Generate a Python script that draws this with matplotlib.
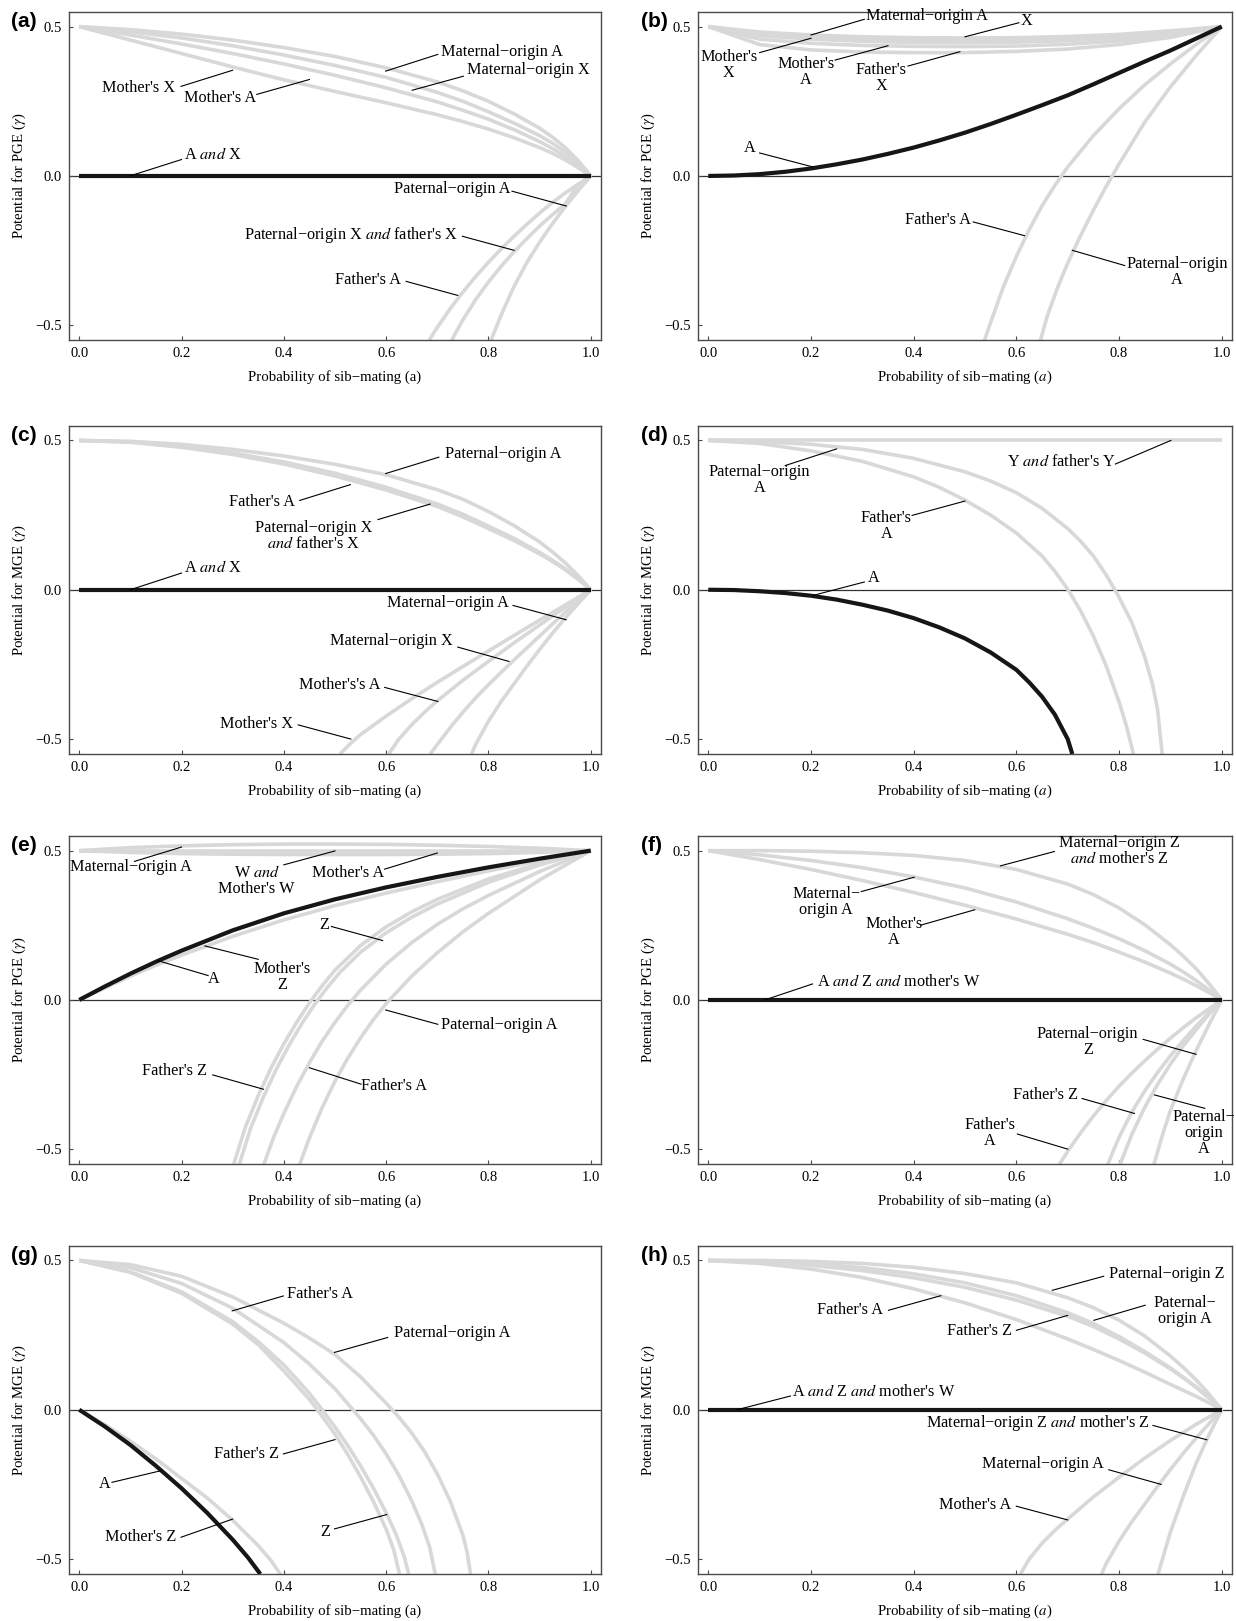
import matplotlib
matplotlib.use("Agg")
import matplotlib.pyplot as plt

plt.rcParams["font.family"] = ["Liberation Serif", "DejaVu Serif"]
plt.rcParams["mathtext.fontset"] = "stix"

# ---------------- values ----------------
grid11 = [0.0, 0.1, 0.2, 0.3, 0.4, 0.5, 0.6, 0.7, 0.8, 0.9, 1.0]
grid16 = [0.0, 0.1, 0.2, 0.3, 0.4, 0.5, 0.6, 0.7, 0.75, 0.8, 0.85, 0.9, 0.925, 0.95, 0.975, 1.0]
grid21 = [0.0, 0.05, 0.1, 0.15, 0.2, 0.25, 0.3, 0.35, 0.4, 0.45, 0.5,
          0.55, 0.6, 0.65, 0.7, 0.75, 0.8, 0.85, 0.9, 0.95, 1.0]
ends = [0.0, 1.0]
zeros = [0.0, 0.0]
halves = [0.5, 0.5]

# (a) PGE
a_mat_origin_A = [0.5, 0.49, 0.475, 0.455, 0.43, 0.40, 0.362, 0.315, 0.285, 0.25, 0.208, 0.16, 0.13, 0.095, 0.052, 0.0]
a_mat_origin_X = [0.5, 0.483, 0.462, 0.436, 0.405, 0.37, 0.33, 0.28, 0.25, 0.215, 0.177, 0.135, 0.11, 0.08, 0.043, 0.0]
a_mother_A = [0.5, 0.472, 0.442, 0.41, 0.375, 0.337, 0.295, 0.248, 0.22, 0.19, 0.155, 0.115, 0.092, 0.066, 0.035, 0.0]
a_mother_X = [0.5, 0.455, 0.41, 0.365, 0.322, 0.283, 0.245, 0.205, 0.182, 0.157, 0.128, 0.095, 0.076, 0.054, 0.028, 0.0]
a_father_A_x = [0.684, 0.7, 0.725, 0.75, 0.775, 0.8, 0.825, 0.85, 0.875, 0.9, 0.925, 0.95, 0.975, 1.0]
a_father_A_y = [-0.55, -0.507, -0.445, -0.389, -0.337, -0.289, -0.244, -0.202, -0.162, -0.124, -0.089, -0.057, -0.028, 0.0]
a_pat_X_x = [0.728, 0.75, 0.775, 0.8, 0.825, 0.85, 0.875, 0.9, 0.925, 0.95, 0.975, 1.0]
a_pat_X_y = [-0.55, -0.482, -0.414, -0.355, -0.302, -0.254, -0.21, -0.168, -0.13, -0.094, -0.06, 0.0]
a_pat_X_y[-2] = -0.03
a_pat_A_x = [0.805, 0.825, 0.85, 0.875, 0.9, 0.925, 0.95, 0.975, 1.0]
a_pat_A_y = [-0.55, -0.465, -0.37, -0.29, -0.222, -0.16, -0.103, -0.05, 0.0]

# (b) PGE
b_A = [0.0, 0.0015, 0.006, 0.014, 0.025, 0.039, 0.055, 0.074, 0.095, 0.119, 0.145,
       0.174, 0.205, 0.237, 0.27, 0.307, 0.345, 0.383, 0.42, 0.46, 0.5]
b_mat_origin_A = [0.5, 0.482, 0.472, 0.466, 0.463, 0.462, 0.463, 0.467, 0.474, 0.486, 0.5]
b_X = [0.5, 0.476, 0.466, 0.46, 0.457, 0.456, 0.457, 0.461, 0.469, 0.482, 0.5]
b_mother_X = [0.5, 0.47, 0.458, 0.451, 0.447, 0.446, 0.448, 0.453, 0.462, 0.478, 0.5]
b_mother_A = [0.5, 0.458, 0.444, 0.437, 0.434, 0.433, 0.435, 0.441, 0.452, 0.471, 0.5]
b_father_X = [0.5, 0.44, 0.422, 0.415, 0.413, 0.413, 0.417, 0.425, 0.44, 0.464, 0.5]
b_father_A_x = [0.538, 0.55, 0.575, 0.6, 0.625, 0.65, 0.675, 0.7, 0.75, 0.8, 0.85, 0.9, 0.95, 1.0]
b_father_A_y = [-0.55, -0.49, -0.37, -0.27, -0.18, -0.1, -0.032, 0.03, 0.135, 0.225, 0.305, 0.375, 0.44, 0.5]
b_pat_A_x = [0.647, 0.66, 0.68, 0.7, 0.725, 0.75, 0.775, 0.8, 0.85, 0.9, 0.95, 1.0]
b_pat_A_y = [-0.55, -0.47, -0.375, -0.292, -0.2, -0.115, -0.035, 0.04, 0.18, 0.298, 0.403, 0.5]

# (c) MGE
c_pat_origin_A = [0.5, 0.497, 0.487, 0.47, 0.448, 0.42, 0.385, 0.335, 0.303, 0.262, 0.215, 0.16, 0.127, 0.09, 0.048, 0.0]
c_father_A = [0.5, 0.495, 0.48, 0.458, 0.428, 0.39, 0.343, 0.287, 0.253, 0.213, 0.172, 0.125, 0.099, 0.07, 0.037, 0.0]
c_pat_origin_X = [0.5, 0.494, 0.477, 0.453, 0.421, 0.381, 0.334, 0.279, 0.244, 0.205, 0.165, 0.12, 0.095, 0.067, 0.035, 0.0]
c_mat_A_x = [0.767, 0.775, 0.8, 0.825, 0.85, 0.875, 0.9, 0.925, 0.95, 0.975, 1.0]
c_mat_A_y = [-0.55, -0.518, -0.44, -0.374, -0.315, -0.256, -0.2, -0.146, -0.095, -0.047, 0.0]
c_mat_X_x = [0.686, 0.7, 0.725, 0.75, 0.775, 0.8, 0.825, 0.85, 0.875, 0.9, 0.925, 0.95, 0.975, 1.0]
c_mat_X_y = [-0.55, -0.518, -0.462, -0.41, -0.362, -0.318, -0.276, -0.235, -0.195, -0.155, -0.115, -0.076, -0.038, 0.0]
c_mothers_A_x = [0.605, 0.625, 0.65, 0.675, 0.7, 0.75, 0.8, 0.85, 0.9, 0.95, 1.0]
c_mothers_A_y = [-0.55, -0.5, -0.452, -0.41, -0.372, -0.303, -0.24, -0.178, -0.118, -0.059, 0.0]
c_mother_X_x = [0.51, 0.53, 0.55, 0.6, 0.65, 0.7, 0.75, 0.8, 0.85, 0.9, 0.95, 1.0]
c_mother_X_y = [-0.55, -0.515, -0.485, -0.423, -0.365, -0.31, -0.257, -0.205, -0.153, -0.102, -0.051, 0.0]

# (d) MGE
d_pat_A_x = [0.0, 0.1, 0.2, 0.3, 0.4, 0.5, 0.55, 0.6, 0.65, 0.7, 0.725, 0.75, 0.775, 0.8,
             0.825, 0.85, 0.865, 0.875, 0.884]
d_pat_A_y = [0.5, 0.497, 0.487, 0.47, 0.44, 0.395, 0.364, 0.325, 0.273, 0.205, 0.163, 0.113, 0.05,
             -0.025, -0.11, -0.225, -0.315, -0.40, -0.55]
d_father_A_x = [0.0, 0.1, 0.2, 0.3, 0.4, 0.45, 0.5, 0.55, 0.6, 0.65, 0.675, 0.7, 0.725, 0.75,
                0.775, 0.8, 0.815, 0.828]
d_father_A_y = [0.5, 0.49, 0.465, 0.43, 0.378, 0.343, 0.3, 0.25, 0.19, 0.113, 0.062, 0.002, -0.07,
                -0.155, -0.255, -0.375, -0.46, -0.55]
d_A_x = [0.0, 0.05, 0.1, 0.15, 0.2, 0.25, 0.3, 0.35, 0.4, 0.45, 0.5, 0.55, 0.6, 0.625, 0.65,
         0.675, 0.7, 0.709]
d_A_y = [0.0, -0.001, -0.005, -0.011, -0.02, -0.033, -0.05, -0.07, -0.095, -0.126, -0.163, -0.21,
         -0.268, -0.31, -0.358, -0.418, -0.5, -0.55]

# (e) PGE, ZW
e_x = [0.0, 0.05, 0.1, 0.15, 0.2, 0.3, 0.4, 0.5, 0.6, 0.7, 0.8, 0.9, 1.0]
e_A = [0.0, 0.045, 0.088, 0.128, 0.165, 0.233, 0.29, 0.337, 0.377, 0.412, 0.444, 0.473, 0.5]
e_mother_Z = [0.0, 0.04, 0.08, 0.116, 0.15, 0.213, 0.268, 0.316, 0.358, 0.396, 0.432, 0.466, 0.5]
e_mat_origin_A = [0.5, 0.51, 0.516, 0.52, 0.522, 0.522, 0.521, 0.518, 0.514, 0.508, 0.5]
e_mother_A = [0.5, 0.494, 0.49, 0.488, 0.487, 0.487, 0.487, 0.488, 0.49, 0.494, 0.5]
e_father_Z_x = [0.302, 0.325, 0.35, 0.375, 0.4, 0.425, 0.45, 0.475, 0.5, 0.55, 0.6, 0.65, 0.7, 0.8, 0.9, 1.0]
e_father_Z_y = [-0.55, -0.425, -0.32, -0.228, -0.147, -0.075, -0.01, 0.048, 0.1, 0.182, 0.245, 0.295,
                0.337, 0.405, 0.457, 0.5]
e_Z_x = [0.313, 0.335, 0.36, 0.385, 0.41, 0.435, 0.46, 0.485, 0.51, 0.55, 0.6, 0.65, 0.7, 0.8, 0.9, 1.0]
e_Z_y = [-0.55, -0.43, -0.325, -0.233, -0.152, -0.08, -0.015, 0.042, 0.093, 0.16, 0.225, 0.277, 0.321,
         0.394, 0.452, 0.5]
e_father_A_x = [0.361, 0.38, 0.4, 0.425, 0.45, 0.475, 0.5, 0.525, 0.55, 0.6, 0.65, 0.7, 0.75, 0.8, 0.9, 1.0]
e_father_A_y = [-0.55, -0.46, -0.38, -0.29, -0.21, -0.138, -0.075, -0.018, 0.033, 0.12, 0.192, 0.253,
                0.305, 0.35, 0.43, 0.5]
e_pat_A_x = [0.431, 0.45, 0.475, 0.5, 0.525, 0.55, 0.575, 0.6, 0.65, 0.7, 0.75, 0.8, 0.9, 1.0]
e_pat_A_y = [-0.55, -0.462, -0.36, -0.272, -0.195, -0.127, -0.066, -0.012, 0.08, 0.158, 0.228, 0.29,
             0.402, 0.5]

# (f) PGE, ZW
f_mat_origin_Z = [0.5, 0.5, 0.498, 0.493, 0.484, 0.467, 0.437, 0.388, 0.353, 0.308, 0.252, 0.185, 0.147, 0.105, 0.055, 0.0]
f_mat_origin_A = [0.5, 0.486, 0.467, 0.443, 0.412, 0.375, 0.328, 0.272, 0.24, 0.205, 0.165, 0.12, 0.094, 0.065, 0.034, 0.0]
f_mother_A = [0.5, 0.47, 0.437, 0.4, 0.36, 0.317, 0.271, 0.22, 0.192, 0.16, 0.127, 0.09, 0.07, 0.048, 0.025, 0.0]
f_father_A_x = [0.684, 0.7, 0.725, 0.75, 0.775, 0.8, 0.825, 0.85, 0.875, 0.9, 0.925, 0.95, 0.975, 1.0]
f_father_A_y = [-0.55, -0.507, -0.445, -0.389, -0.337, -0.289, -0.245, -0.204, -0.165, -0.128, -0.093,
                -0.06, -0.03, 0.0]
f_father_Z_x = [0.778, 0.8, 0.825, 0.85, 0.875, 0.9, 0.925, 0.95, 0.975, 1.0]
f_father_Z_y = [-0.55, -0.46, -0.375, -0.305, -0.243, -0.187, -0.136, -0.088, -0.043, 0.0]
f_pat_A_x = [0.802, 0.825, 0.85, 0.875, 0.9, 0.925, 0.95, 0.975, 1.0]
f_pat_A_y = [-0.55, -0.45, -0.36, -0.283, -0.215, -0.154, -0.1, -0.048, 0.0]
f_pat_Z_x = [0.868, 0.885, 0.9, 0.925, 0.95, 0.975, 1.0]
f_pat_Z_y = [-0.55, -0.45, -0.37, -0.265, -0.17, -0.083, 0.0]

# (g) MGE, ZW
g_pat_A_x = [0.0, 0.1, 0.2, 0.3, 0.4, 0.45, 0.5, 0.55, 0.6, 0.625, 0.65, 0.675, 0.7, 0.725, 0.75, 0.758, 0.765]
g_pat_A_y = [0.5, 0.486, 0.447, 0.378, 0.29, 0.24, 0.185, 0.11, 0.022, -0.025, -0.078, -0.14, -0.215,
             -0.305, -0.42, -0.475, -0.55]
g_father_A_x = [0.0, 0.1, 0.2, 0.3, 0.4, 0.45, 0.5, 0.55, 0.575, 0.6, 0.625, 0.65, 0.67, 0.685, 0.696]
g_father_A_y = [0.5, 0.476, 0.423, 0.34, 0.225, 0.153, 0.07, -0.03, -0.085, -0.148, -0.22, -0.305,
                -0.385, -0.46, -0.55]
g_Z_x = [0.0, 0.1, 0.2, 0.3, 0.35, 0.4, 0.45, 0.475, 0.5, 0.525, 0.55, 0.575, 0.6, 0.62, 0.635, 0.644]
g_Z_y = [0.5, 0.462, 0.395, 0.295, 0.228, 0.15, 0.055, 0.0, -0.058, -0.12, -0.188, -0.262, -0.345,
         -0.42, -0.49, -0.55]
g_father_Z_x = [0.0, 0.1, 0.2, 0.3, 0.35, 0.4, 0.45, 0.475, 0.5, 0.525, 0.55, 0.575, 0.6, 0.615, 0.626]
g_father_Z_y = [0.5, 0.46, 0.39, 0.287, 0.218, 0.13, 0.035, -0.022, -0.082, -0.15, -0.225, -0.307,
                -0.4, -0.47, -0.55]
g_A_x = [0.0, 0.05, 0.1, 0.15, 0.2, 0.25, 0.3, 0.33, 0.354]
g_A_y = [0.0, -0.056, -0.118, -0.188, -0.263, -0.345, -0.435, -0.495, -0.55]
g_mother_Z_x = [0.0, 0.05, 0.1, 0.15, 0.2, 0.25, 0.3, 0.35, 0.375, 0.393]
g_mother_Z_y = [0.0, -0.05, -0.105, -0.165, -0.23, -0.295, -0.37, -0.455, -0.505, -0.55]

# (h) MGE, ZW
h_pat_origin_Z = [0.5, 0.5, 0.497, 0.49, 0.477, 0.456, 0.425, 0.375, 0.342, 0.3, 0.247, 0.18, 0.142, 0.1, 0.053, 0.0]
h_pat_origin_A = [0.5, 0.497, 0.49, 0.476, 0.455, 0.425, 0.382, 0.325, 0.289, 0.245, 0.195, 0.14, 0.109, 0.077, 0.04, 0.0]
h_father_Z = [0.5, 0.495, 0.484, 0.466, 0.442, 0.41, 0.367, 0.313, 0.279, 0.237, 0.19, 0.137, 0.107, 0.075, 0.039, 0.0]
h_father_A = [0.5, 0.49, 0.471, 0.443, 0.405, 0.358, 0.302, 0.237, 0.202, 0.165, 0.126, 0.085, 0.065, 0.045, 0.023, 0.0]
h_mat_Z_x = [0.876, 0.9, 0.925, 0.95, 0.975, 1.0]
h_mat_Z_y = [-0.55, -0.41, -0.29, -0.18, -0.085, 0.0]
h_mat_A_x = [0.766, 0.775, 0.8, 0.825, 0.85, 0.875, 0.9, 0.925, 0.95, 0.975, 1.0]
h_mat_A_y = [-0.55, -0.515, -0.44, -0.375, -0.316, -0.257, -0.2, -0.146, -0.095, -0.047, 0.0]
h_mother_A_x = [0.608, 0.625, 0.65, 0.675, 0.7, 0.75, 0.8, 0.85, 0.9, 0.95, 1.0]
h_mother_A_y = [-0.55, -0.5, -0.447, -0.404, -0.366, -0.292, -0.226, -0.162, -0.103, -0.049, 0.0]

x_ticks = [0.0, 0.2, 0.4, 0.6, 0.8, 1.0]
x_ticklabels = ["0.0", "0.2", "0.4", "0.6", "0.8", "1.0"]
y_ticks = [-0.5, 0.0, 0.5]
y_ticklabels = ["\u22120.5", "0.0", "0.5"]

# ---------------- panel specs ----------------
AND = r"$\mathit{and}$"
M = "\u2212"
PGE = r"Potential for PGE ($\gamma$)"
MGE = r"Potential for MGE ($\gamma$)"
XL_UP = "Probability of sib" + M + "mating (a)"
XL_IT = "Probability of sib" + M + r"mating ($a$)"

panels = [
    dict(tag="(a)", ylabel=PGE, xlabel=XL_UP,
         gray=[(grid16, a_mat_origin_A), (grid16, a_mat_origin_X), (grid16, a_mother_A),
               (grid16, a_mother_X), (a_father_A_x, a_father_A_y), (a_pat_X_x, a_pat_X_y),
               (a_pat_A_x, a_pat_A_y)],
         black=[(ends, zeros)],
         labels=[("Maternal" + M + "origin A", 0.707, 0.416, "left", (0.701, 0.407, 0.599, 0.351)),
                 ("Maternal" + M + "origin X", 0.759, 0.354, "left", (0.751, 0.334, 0.651, 0.287)),
                 ("Mother's X", 0.188, 0.295, "right", (0.199, 0.30, 0.30, 0.354)),
                 ("Mother's A", 0.205, 0.261, "left", (0.347, 0.273, 0.45, 0.323)),
                 ("A " + AND + " X", 0.205, 0.0715, "left", (0.2, 0.055, 0.099, 0.0)),
                 ("Paternal" + M + "origin A", 0.844, -0.045, "right", (0.846, -0.051, 0.952, -0.1006)),
                 ("Paternal" + M + "origin X " + AND + " father's X", 0.74, -0.197, "right",
                  (0.749, -0.202, 0.85, -0.249)),
                 ("Father's A", 0.630, -0.347, "right", (0.639, -0.353, 0.74, -0.40))]),
    dict(tag="(b)", ylabel=PGE, xlabel=XL_IT,
         gray=[(grid11, b_mat_origin_A), (grid11, b_X), (grid11, b_mother_X), (grid11, b_mother_A),
               (grid11, b_father_X), (b_father_A_x, b_father_A_y), (b_pat_A_x, b_pat_A_y)],
         black=[(grid21, b_A)],
         labels=[("Maternal" + M + "origin A", 0.307, 0.534, "left", (0.304, 0.5246, 0.2, 0.472)),
                 ("X", 0.608, 0.519, "left", (0.605, 0.513, 0.5, 0.466)),
                 ("Mother's\nX", 0.04, 0.371, "center", (0.1, 0.413, 0.2, 0.461)),
                 ("Mother's\nA", 0.19, 0.349, "center", (0.247, 0.388, 0.35, 0.436)),
                 ("Father's\nX", 0.337, 0.329, "center", (0.389, 0.368, 0.49, 0.416)),
                 ("A", 0.081, 0.092, "center", (0.1, 0.077, 0.204, 0.03)),
                 ("Father's A", 0.511, -0.1465, "right", (0.516, -0.154, 0.616, -0.2)),
                 ("Paternal" + M + "origin\nA", 0.913, -0.322, "center", (0.811, -0.3, 0.709, -0.249))]),
    dict(tag="(c)", ylabel=MGE, xlabel=XL_UP,
         gray=[(grid16, c_pat_origin_A), (grid16, c_father_A), (grid16, c_pat_origin_X),
               (c_mat_A_x, c_mat_A_y), (c_mat_X_x, c_mat_X_y), (c_mothers_A_x, c_mothers_A_y),
               (c_mother_X_x, c_mother_X_y)],
         black=[(ends, zeros)],
         labels=[("Paternal" + M + "origin A", 0.715, 0.456, "left", (0.703, 0.444, 0.599, 0.389)),
                 ("Father's A", 0.422, 0.294, "right", (0.431, 0.299, 0.53, 0.352)),
                 ("Paternal" + M + "origin X\n" + AND + " father's X", 0.458, 0.18, "center",
                  (0.584, 0.235, 0.686, 0.287)),
                 ("A " + AND + " X", 0.205, 0.073, "left", (0.2, 0.056, 0.1, 0.0)),
                 ("Maternal" + M + "origin A", 0.84, -0.045, "right", (0.848, -0.0525, 0.952, -0.1006)),
                 ("Maternal" + M + "origin X", 0.73, -0.173, "right", (0.74, -0.192, 0.84, -0.24)),
                 ("Mother's's A", 0.589, -0.318, "right", (0.597, -0.327, 0.701, -0.374)),
                 ("Mother's X", 0.419, -0.449, "right", (0.428, -0.4525, 0.531, -0.5))]),
    dict(tag="(d)", ylabel=MGE, xlabel=XL_IT,
         gray=[(ends, halves), (d_pat_A_x, d_pat_A_y), (d_father_A_x, d_father_A_y)],
         black=[(d_A_x, d_A_y)],
         labels=[("Y " + AND + " father's Y", 0.582, 0.429, "left", (0.793, 0.421, 0.901, 0.5)),
                 ("Paternal" + M + "origin\nA", 0.1, 0.366, "center", (0.150, 0.416, 0.25, 0.4716)),
                 ("Father's\nA", 0.347, 0.215, "center", (0.397, 0.249, 0.5, 0.297)),
                 ("A", 0.322, 0.039, "center", (0.304, 0.026, 0.204, -0.019))]),
    dict(tag="(e)", ylabel=PGE, xlabel=XL_UP,
         gray=[(grid11, e_mat_origin_A), (ends, halves), (grid11, e_mother_A), (e_x, e_mother_Z),
               (e_father_Z_x, e_father_Z_y), (e_Z_x, e_Z_y), (e_father_A_x, e_father_A_y),
               (e_pat_A_x, e_pat_A_y)],
         black=[(e_x, e_A)],
         labels=[("Maternal" + M + "origin A", -0.0185, 0.445, "left", (0.108, 0.464, 0.2, 0.512)),
                 ("W " + AND + "\nMother's W", 0.347, 0.399, "center", (0.4, 0.4525, 0.5, 0.499)),
                 ("Mother's A", 0.456, 0.4246, "left", (0.597, 0.438, 0.7, 0.492)),
                 ("Z", 0.479, 0.251, "center", (0.493, 0.246, 0.593, 0.199)),
                 ("A", 0.263, 0.069, "center", (0.252, 0.0816, 0.153, 0.132)),
                 ("Mother's\nZ", 0.396, 0.077, "center", (0.35, 0.136, 0.2456, 0.181)),
                 ("Paternal" + M + "origin A", 0.707, -0.084, "left", (0.701, -0.0816, 0.599, -0.0335)),
                 ("Father's Z", 0.249, -0.238, "right", (0.261, -0.251, 0.36, -0.299)),
                 ("Father's A", 0.551, -0.288, "left", (0.551, -0.282, 0.45, -0.227))]),
    dict(tag="(f)", ylabel=PGE, xlabel=XL_UP,
         gray=[(grid16, f_mat_origin_Z), (grid16, f_mat_origin_A), (grid16, f_mother_A),
               (f_father_A_x, f_father_A_y), (f_father_Z_x, f_father_Z_y), (f_pat_A_x, f_pat_A_y),
               (f_pat_Z_x, f_pat_Z_y)],
         black=[(ends, zeros)],
         labels=[("Maternal" + M + "origin Z\n" + AND + " mother's Z", 0.8, 0.5, "center",
                  (0.674, 0.497, 0.569, 0.449)),
                 ("Maternal" + M + "\norigin A", 0.23, 0.328, "center", (0.298, 0.363, 0.401, 0.411)),
                 ("Mother's\nA", 0.361, 0.227, "center", (0.415, 0.251, 0.519, 0.302)),
                 ("A " + AND + " Z " + AND + " mother's W", 0.211, 0.0615, "left", (0.203, 0.0536, 0.110, 0.0)),
                 ("Paternal" + M + "origin\nZ", 0.739, -0.141, "center", (0.847, -0.132, 0.95, -0.182)),
                 ("Father's Z", 0.72, -0.318, "right", (0.728, -0.33, 0.83, -0.38)),
                 ("Paternal" + M + "\norigin\nA", 0.965, -0.445, "center", (0.967, -0.363, 0.869, -0.318)),
                 ("Father's\nA", 0.548, -0.445, "center", (0.602, -0.449, 0.70, -0.4995))]),
    dict(tag="(g)", ylabel=MGE, xlabel=XL_UP,
         gray=[(g_pat_A_x, g_pat_A_y), (g_father_A_x, g_father_A_y), (g_Z_x, g_Z_y),
               (g_father_Z_x, g_father_Z_y), (g_mother_Z_x, g_mother_Z_y)],
         black=[(g_A_x, g_A_y)],
         labels=[("Father's A", 0.407, 0.389, "left", (0.399, 0.381, 0.299, 0.331)),
                 ("Paternal" + M + "origin A", 0.615, 0.256, "left", (0.603, 0.242, 0.499, 0.192)),
                 ("Father's Z", 0.391, -0.148, "right", (0.399, -0.148, 0.5, -0.1)),
                 ("Z", 0.48, -0.408, "center", (0.499, -0.399, 0.601, -0.351)),
                 ("A", 0.05, -0.249, "center", (0.064, -0.243, 0.16, -0.204)),
                 ("Mother's Z", 0.189, -0.427, "right", (0.199, -0.427, 0.30, -0.366))]),
    dict(tag="(h)", ylabel=MGE, xlabel=XL_IT,
         gray=[(grid16, h_pat_origin_Z), (grid16, h_pat_origin_A), (grid16, h_father_Z),
               (grid16, h_father_A), (h_mat_Z_x, h_mat_Z_y), (h_mat_A_x, h_mat_A_y),
               (h_mother_A_x, h_mother_A_y)],
         black=[(ends, zeros)],
         labels=[("Paternal" + M + "origin Z", 0.78, 0.456, "left", (0.77, 0.447, 0.67, 0.4)),
                 ("Paternal" + M + "\norigin A", 0.928, 0.331, "center", (0.851, 0.35, 0.751, 0.2995)),
                 ("Father's A", 0.341, 0.333, "right", (0.351, 0.333, 0.453, 0.382)),
                 ("Father's Z", 0.592, 0.264, "right", (0.6, 0.266, 0.70, 0.316)),
                 ("A " + AND + " Z " + AND + " mother's W", 0.164, 0.059, "left", (0.16, 0.046, 0.056, 0.0)),
                 ("Maternal" + M + "origin Z " + AND + " mother's Z", 0.859, -0.0447, "right",
                  (0.866, -0.0525, 0.971, -0.1006)),
                 ("Maternal" + M + "origin A", 0.77, -0.183, "right", (0.78, -0.201, 0.882, -0.25)),
                 ("Mother's A", 0.591, -0.318, "right", (0.6, -0.323, 0.70, -0.369))]),
]

# ---------------- layout (pixels of a 1236x1621 canvas) ----------------
W, H = 1236, 1621
cols = [(69, 532), (698, 534)]
rows = [(11.7, 340.2), (425.5, 754.0), (835.7, 1164.2), (1245.5, 1574.0)]
GRAY = "#d8d8d8"
BLACK = "#161616"
FRAME = "#4a4a4a"

fig = plt.figure(figsize=(W / 100, H / 100), dpi=100)

for i, p in enumerate(panels):
    r, c = divmod(i, 2)
    left, width = cols[c]
    top, bottom = rows[r]
    ax = fig.add_axes([left / W, 1 - bottom / H, width / W, (bottom - top) / H])
    ax.set_xlim(-0.02, 1.02)
    ax.set_ylim(-0.55, 0.55)

    ax.axhline(0, color="#333333", lw=0.9, zorder=1)
    for x, y in p["gray"]:
        ax.plot(x, y, color=GRAY, lw=2.6, solid_capstyle="butt",
                solid_joinstyle="round", zorder=2)
    for x, y in p["black"]:
        ax.plot(x, y, color=BLACK, lw=3.0, solid_capstyle="butt",
                solid_joinstyle="round", zorder=3)

    for text, tx, ty, ha, (x1, y1, x2, y2) in p["labels"]:
        ax.text(tx, ty, text, ha=ha, va="center", multialignment="center",
                fontsize=11.7, linespacing=1.0, zorder=5)
        ax.plot([x1, x2], [y1, y2], color="black", lw=0.8, zorder=4)

    ax.set_xticks(x_ticks)
    ax.set_xticklabels(x_ticklabels)
    ax.set_yticks(y_ticks)
    ax.set_yticklabels(y_ticklabels)
    ax.tick_params(direction="in", length=3, width=0.8, color=FRAME,
                   labelsize=10.5, pad=5)
    for s in ax.spines.values():
        s.set_color(FRAME)
        s.set_linewidth(1.0)

    ax.text(0.5, -0.113, p["xlabel"], transform=ax.transAxes, ha="center",
            va="center", fontsize=10.7)
    ax.text(-0.093, 0.5, p["ylabel"], transform=ax.transAxes, ha="center",
            va="center", rotation=90, fontsize=10.7)

    tag_x = 11 if c == 0 else 641
    fig.text(tag_x / W, 1 - (top + 10) / H, p["tag"], ha="left", va="center",
             fontsize=15, fontweight="bold", family="Liberation Sans")

fig.savefig("out.png", dpi=100)
